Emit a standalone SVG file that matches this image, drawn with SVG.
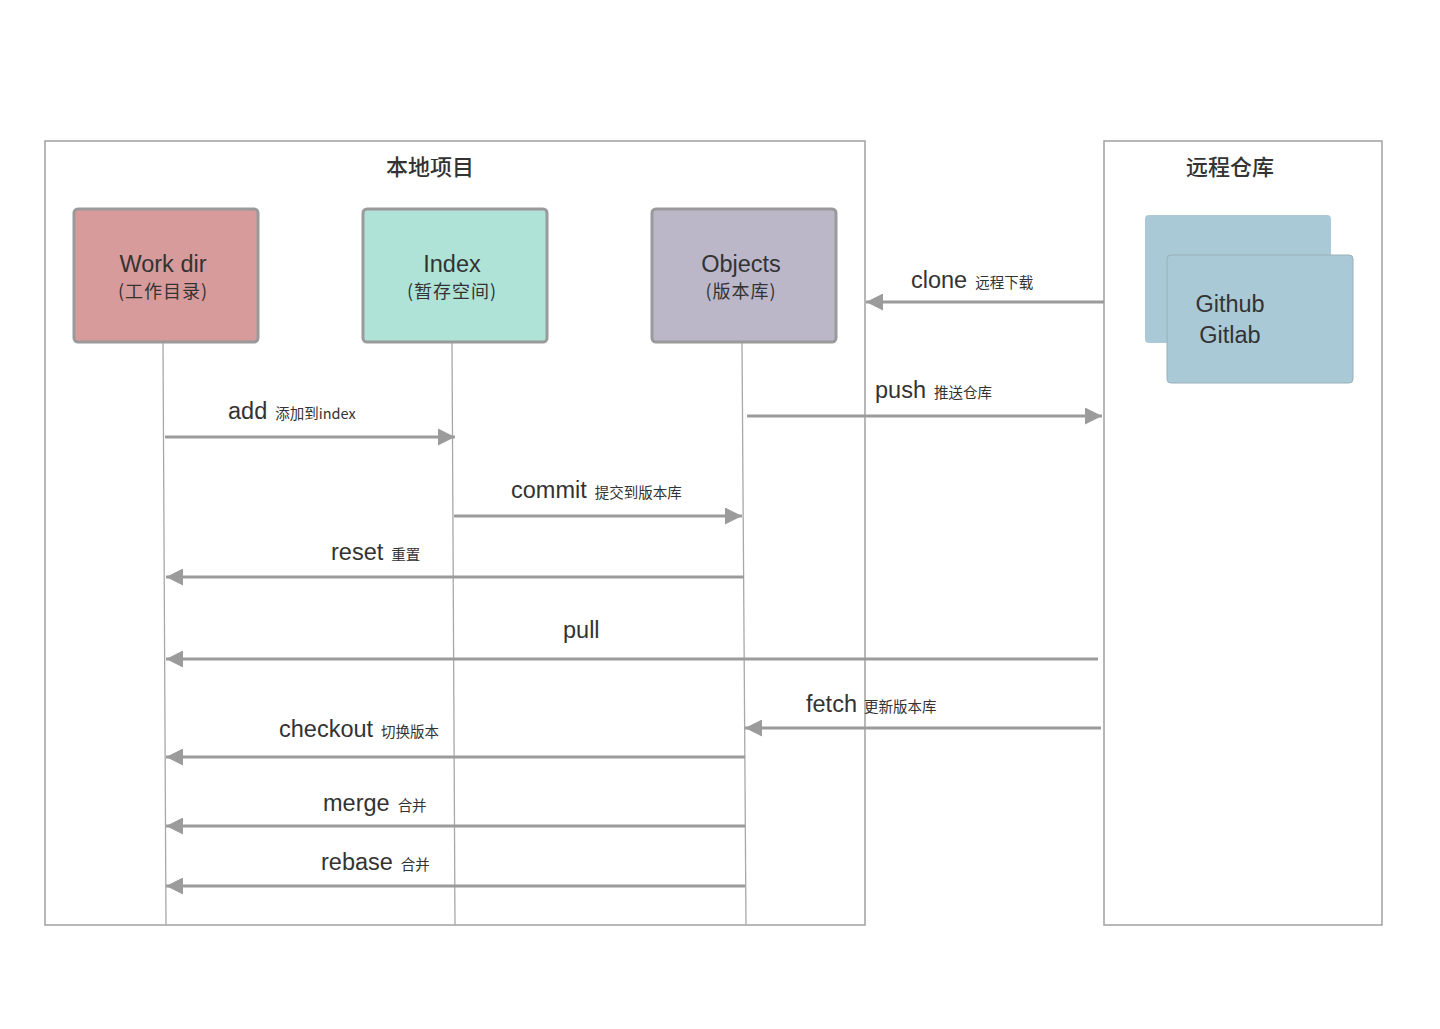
<svg xmlns="http://www.w3.org/2000/svg" width="1440" height="1029" viewBox="0 0 1440 1029">
<style>
.frame{fill:none;stroke:#a0a0a0;stroke-width:1.5}
.node{stroke:#9a9a9a;stroke-width:3}
.life{stroke:#a8a8a8;stroke-width:1.3;fill:none}
.arr{stroke:#9b9b9b;stroke-width:3;fill:none;marker-end:url(#ah)}
.t{font-family:"Liberation Sans","Noto Sans CJK SC",sans-serif;fill:#333}
.big{font-size:23.5px}
.title{font-family:"Noto Sans CJK SC",sans-serif;font-size:22px;font-weight:500;fill:#333}
.sub{font-family:"Noto Sans CJK SC",sans-serif;font-size:18px;fill:#333}
.sm{font-family:"Noto Sans CJK SC",sans-serif;font-size:14.5px;fill:#333}
</style>
<defs>
<marker id="ah" markerUnits="userSpaceOnUse" markerWidth="17" markerHeight="17" viewBox="0 0 17 17" refX="17" refY="8.5" orient="auto">
<path d="M0,0 L17,8.5 L0,17 z" fill="#9b9b9b"/>
</marker>
</defs>
<rect width="1440" height="1029" fill="#fff"/>

<g id="local-project">
<rect class="frame" x="45" y="141" width="820" height="784"/>
<text class="title" x="430" y="175" text-anchor="middle">本地项目</text>
</g>
<g id="remote-repo">
<rect class="frame" x="1104" y="141" width="278" height="784"/>
<text class="title" x="1230" y="175" text-anchor="middle">远程仓库</text>
</g>

<g id="lifelines">
<line class="life" x1="163" y1="342" x2="166" y2="925"/>
<line class="life" x1="452" y1="342" x2="455" y2="925"/>
<line class="life" x1="742" y1="342" x2="746" y2="925"/>
</g>

<g id="workdir">
<rect class="node" x="74" y="209" width="184" height="133" rx="4" fill="#d89b9b"/>
<text class="t big" x="163" y="272" text-anchor="middle">Work dir</text>
<text class="sub" x="163" y="298" text-anchor="middle" letter-spacing="1">(工作目录)</text>
</g>
<g id="index">
<rect class="node" x="363" y="209" width="184" height="133" rx="4" fill="#b0e3d8"/>
<text class="t big" x="452" y="272" text-anchor="middle">Index</text>
<text class="sub" x="452" y="298" text-anchor="middle" letter-spacing="1">(暂存空间)</text>
</g>
<g id="objects">
<rect class="node" x="652" y="209" width="184" height="133" rx="4" fill="#bbb7c9"/>
<text class="t big" x="741" y="272" text-anchor="middle">Objects</text>
<text class="sub" x="741" y="298" text-anchor="middle" letter-spacing="1">(版本库)</text>
</g>
<g id="github">
<rect x="1145" y="215" width="186" height="128" rx="4" fill="#a9c9d6"/>
<rect x="1167" y="255" width="186" height="128" rx="4" fill="#a9c9d6" stroke="#9ab0b8" stroke-width="1"/>
<text class="t big" x="1230" y="312" text-anchor="middle">Github</text>
<text class="t big" x="1230" y="343" text-anchor="middle">Gitlab</text>
</g>

<g id="connectors">
<line class="arr" x1="1104" y1="302" x2="866" y2="302"/>
<line class="arr" x1="747" y1="416" x2="1102" y2="416"/>
<line class="arr" x1="165" y1="437" x2="455" y2="437"/>
<line class="arr" x1="454" y1="516" x2="742" y2="516"/>
<line class="arr" x1="744" y1="577" x2="166" y2="577"/>
<line class="arr" x1="1098" y1="659" x2="166" y2="659"/>
<line class="arr" x1="1101" y1="728" x2="745" y2="728"/>
<line class="arr" x1="745" y1="757" x2="166" y2="757"/>
<line class="arr" x1="745" y1="826" x2="166" y2="826"/>
<line class="arr" x1="745" y1="886" x2="166" y2="886"/>
</g>

<g id="labels">
<text class="t big" x="911" y="288">clone<tspan class="sm" dx="8">远程下载</tspan></text>
<text class="t big" x="875" y="398">push<tspan class="sm" dx="8">推送仓库</tspan></text>
<text class="t big" x="228" y="419">add<tspan class="sm" dx="8">添加到index</tspan></text>
<text class="t big" x="511" y="498">commit<tspan class="sm" dx="8">提交到版本库</tspan></text>
<text class="t big" x="331" y="560">reset<tspan class="sm" dx="8">重置</tspan></text>
<text class="t big" x="563" y="638">pull</text>
<text class="t big" x="806" y="712">fetch<tspan class="sm" dx="7">更新版本库</tspan></text>
<text class="t big" x="279" y="737">checkout<tspan class="sm" dx="8">切换版本</tspan></text>
<text class="t big" x="323" y="811">merge<tspan class="sm" dx="8">合并</tspan></text>
<text class="t big" x="321" y="870">rebase<tspan class="sm" dx="8">合并</tspan></text>
</g>
</svg>
